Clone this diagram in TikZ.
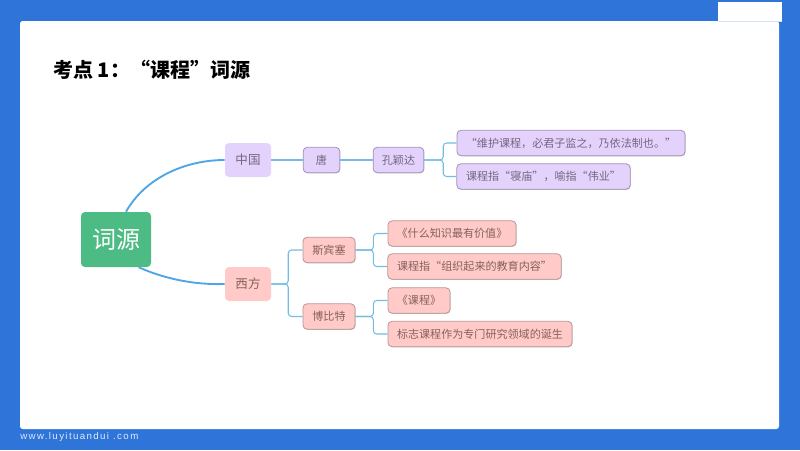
\documentclass[tikz,border=0pt]{standalone}
\usepackage{fontspec}
\setmainfont{Noto Sans CJK SC}
\newfontfamily\footfont[LetterSpace=14]{Liberation Sans}
\usetikzlibrary{shadows}
\definecolor{bgblue}{HTML}{2F74D8}
\definecolor{rootgreen}{HTML}{4DBB84}
\definecolor{purplefill}{HTML}{E3D2FB}
\definecolor{pinkfill}{HTML}{FFCAC7}
\definecolor{purpleline}{HTML}{A491B8}
\definecolor{pinkline}{HTML}{B99695}
\definecolor{purpletext}{HTML}{75667F}
\definecolor{pinktext}{HTML}{86615F}
\definecolor{mainlink}{HTML}{4FA6E6}
\definecolor{sublink}{HTML}{74BCE2}
\tikzset{
  x=0.75pt,y=-0.75pt,
  mapnode/.style={rounded corners=3pt,inner sep=0pt,align=center,font=\fontsize{8.3}{10}\selectfont},
  rootnode/.style={mapnode,fill=rootgreen,text=white,minimum width=52.5pt,minimum height=41.25pt,font=\fontsize{18}{20}\selectfont},
  topnode/.style={mapnode,minimum width=34.5pt,minimum height=25.5pt,font=\fontsize{9.4}{11}\selectfont},
  toppurple/.style={topnode,fill=purplefill,text=purpletext},
  toppink/.style={topnode,fill=pinkfill,text=pinktext},
  leafshadow/.style={drop shadow={shadow xshift=0.4pt,shadow yshift=-0.5pt,opacity=0.22,fill=black}},
  purpleleaf/.style={mapnode,leafshadow,fill=purplefill,draw=purpleline,line width=0.6pt,text=purpletext,minimum height=19pt},
  pinkleaf/.style={mapnode,leafshadow,fill=pinkfill,draw=pinkline,line width=0.6pt,text=pinktext,minimum height=19pt},
  mainconn/.style={draw=mainlink,line width=1.4pt},
  subconn/.style={draw=sublink,line width=0.8pt,rounded corners=2.5pt},
}
\begin{document}
\begin{tikzpicture}
\useasboundingbox (0,0) rectangle (800,450);
\fill[bgblue] (0,0) rectangle (800,450);
\fill[white,rounded corners=2pt] (20,21) rectangle (779,429);
\fill[white] (718,1.5) rectangle (782,21);
\draw[white!80!bgblue,line width=0.5pt] (718,21) -- (782,21);
\node[anchor=west,inner sep=0pt,font=\fontsize{15}{18}\selectfont\bfseries] (title) at (53,70) {考点 1：“课程”词源};
\node[anchor=west,inner sep=0pt,text=white!85!bgblue,font=\footfont\fontsize{7.3}{9}\selectfont] (foot) at (20,437) {www.luyituandui .com};

\node[rootnode] (root) at (116,239.5) {词源};
\node[toppurple] (cn) at (248,160) {中国};
\node[toppink] (west) at (248,284) {西方};
\node[purpleleaf,minimum width=27.5pt] (tang) at (321.5,160) {唐};
\node[purpleleaf,minimum width=38pt] (kong) at (398.5,160) {孔颖达};
\node[purpleleaf,minimum width=171pt] (q1) at (571,143) {“维护课程，必君子监之，乃依法制也。”};
\node[purpleleaf,minimum width=130pt] (q2) at (543.5,176.5) {课程指“寝庙”，喻指“伟业”};
\node[pinkleaf,minimum width=39pt] (spencer) at (329,250) {斯宾塞};
\node[pinkleaf,minimum width=39pt] (bobbitt) at (329,316.5) {博比特};
\node[pinkleaf,minimum width=96pt] (a1) at (452,233.5) {《什么知识最有价值》};
\node[pinkleaf,minimum width=130pt] (a2) at (474.5,266.5) {课程指“组织起来的教育内容”};
\node[pinkleaf,minimum width=46.5pt] (b1) at (419,300.5) {《课程》};
\node[pinkleaf,minimum width=138pt] (b2) at (480,334) {标志课程作为专门研究领域的诞生};

\draw[mainconn] ([xshift=7.5pt]root.north) .. controls (145,178) and (185,160) .. (cn.west);
\draw[mainconn] ([xshift=17pt]root.south) .. controls (165,279) and (195,285) .. (west.west);
\draw[subconn] (cn.east) -- (tang.west);
\draw[subconn] (tang.east) -- (kong.west);
\draw[subconn] (kong.east) -- ++(19,0) |- (q1.west);
\draw[subconn] (kong.east) -- ++(19,0) |- (q2.west);
\draw[subconn] (west.east) -- ++(17,0) |- (spencer.west);
\draw[subconn] (west.east) -- ++(17,0) |- (bobbitt.west);
\draw[subconn] (spencer.east) -- ++(18,0) |- (a1.west);
\draw[subconn] (spencer.east) -- ++(18,0) |- (a2.west);
\draw[subconn] (bobbitt.east) -- ++(18,0) |- (b1.west);
\draw[subconn] (bobbitt.east) -- ++(18,0) |- (b2.west);
\end{tikzpicture}
\end{document}
